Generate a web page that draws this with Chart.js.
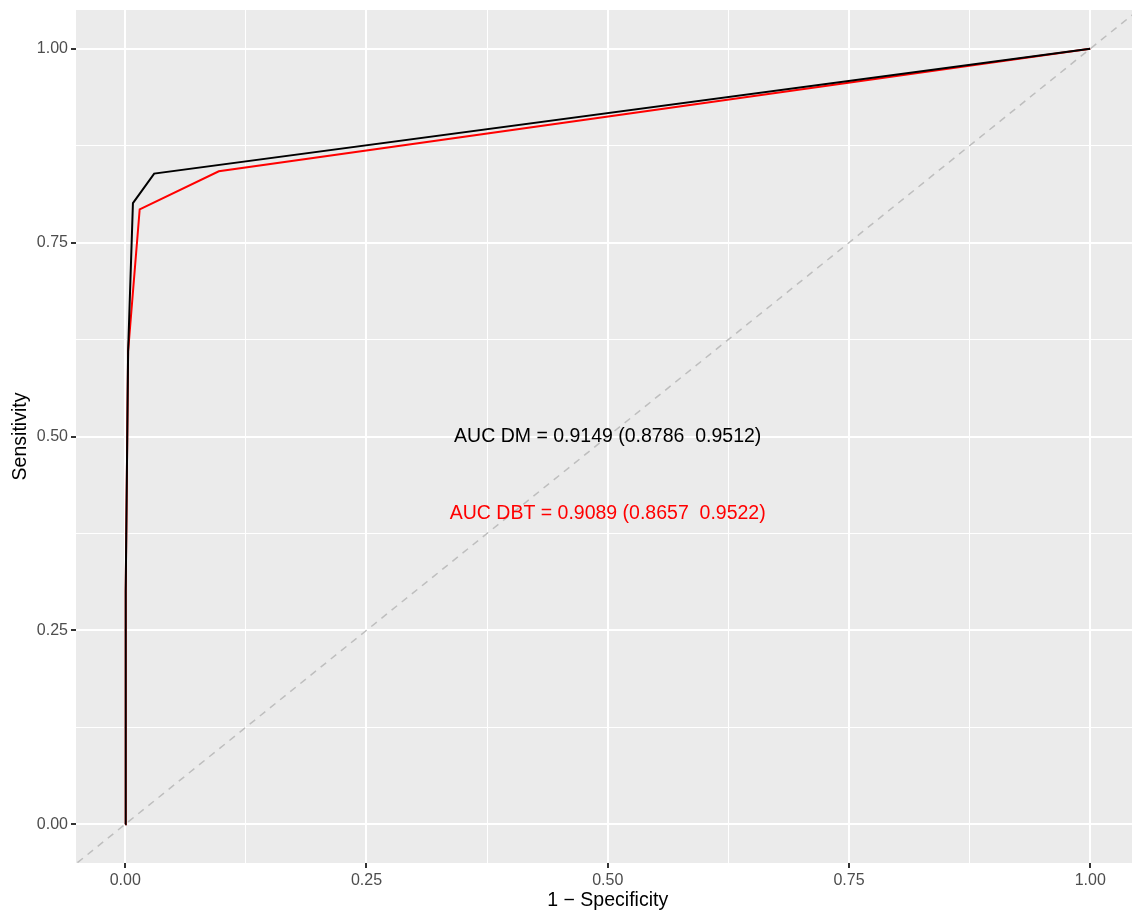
<!DOCTYPE html>
<html>
<head>
<meta charset="utf-8">
<script src="https://cdn.jsdelivr.net/npm/chart.js@4/dist/chart.umd.min.js"></script>
<style>
html,body{margin:0;padding:0;background:#fff;}
#wrap{width:1132px;height:913px;position:relative;}
</style>
</head>
<body>
<div id="wrap"><canvas id="c" width="1132" height="913"></canvas></div>
<script>
// ROC data
const fprDM  = [0, 0.0005, 0.003, 0.008, 0.030, 1];
const tprDM  = [0, 0.30, 0.61, 0.801, 0.839, 1];
const fprDBT = [0, 0.0005, 0.003, 0.015, 0.097, 1];
const tprDBT = [0, 0.30, 0.61, 0.793, 0.842, 1];
const diagX  = [-0.06, 1.06];
const diagY  = [-0.06, 1.06];
const majorTicks = [0, 0.25, 0.5, 0.75, 1];
const allTicks = [0, 0.125, 0.25, 0.375, 0.5, 0.625, 0.75, 0.875, 1];
const labelDM  = 'AUC DM = 0.9149 (0.8786  0.9512)';
const labelDBT = 'AUC DBT = 0.9089 (0.8657  0.9522)';
const labelPosDM  = [0.5, 0.5];
const labelPosDBT = [0.5, 0.4];
const xTitle = '1 \u2212 Specificity';
const yTitle = 'Sensitivity';

const toPts = (xs, ys) => xs.map((x, i) => ({x: x, y: ys[i]}));
const isMajor = v => majorTicks.some(m => Math.abs(m - v) < 1e-9);
const FONT = '"Liberation Sans", Arial, sans-serif';

const bgPlugin = {
  id: 'bg',
  beforeDraw(chart) {
    const {ctx, chartArea: a} = chart;
    ctx.save();
    ctx.fillStyle = '#EBEBEB';
    ctx.fillRect(a.left, a.top, a.right - a.left, a.bottom - a.top);
    ctx.restore();
  },
  afterDraw(chart) {
    const {ctx, chartArea: a, scales} = chart;
    ctx.save();
    ctx.textAlign = 'center';
    ctx.textBaseline = 'middle';
    ctx.font = '19.5px ' + FONT;
    ctx.fillStyle = '#000000';
    ctx.fillText(labelDM, scales.x.getPixelForValue(labelPosDM[0]), scales.y.getPixelForValue(labelPosDM[1]));
    ctx.fillStyle = '#FF0000';
    ctx.fillText(labelDBT, scales.x.getPixelForValue(labelPosDBT[0]), scales.y.getPixelForValue(labelPosDBT[1]));
    // axis titles
    ctx.fillStyle = '#000000';
    ctx.font = '19.5px ' + FONT;
    ctx.fillText(xTitle, scales.x.getPixelForValue(0.5), 901);
    ctx.translate(21, (a.top + a.bottom) / 2);
    ctx.rotate(-Math.PI / 2);
    ctx.fillText(yTitle, 0, 0);
    ctx.restore();
  }
};

const gridOpts = {
  color: '#FFFFFF',
  lineWidth: ctx => (ctx.tick && isMajor(ctx.tick.value)) ? 2 : 1,
  tickColor: ctx => (ctx.tick && isMajor(ctx.tick.value)) ? '#333333' : 'rgba(0,0,0,0)',
  tickLength: 5,
  tickWidth: 2,
  drawTicks: true
};

const zeroPad = s => { s.paddingTop = 0; s.paddingBottom = 0; s.paddingLeft = 0; s.paddingRight = 0; };

new Chart(document.getElementById('c'), {
  type: 'scatter',
  data: {
    datasets: [
      {data: toPts(diagX, diagY), showLine: true, borderColor: '#BEBEBE', borderWidth: 1.5, borderDash: [7, 6], pointRadius: 0},
      {data: toPts(fprDM, tprDM), showLine: true, borderColor: '#000000', borderWidth: 2, pointRadius: 0},
      {data: toPts(fprDBT, tprDBT), showLine: true, borderColor: '#FF0000', borderWidth: 2, pointRadius: 0}
    ]
  },
  options: {
    responsive: false,
    animation: false,
    layout: {padding: {top: 10, right: 0, left: 0, bottom: 0}},
    plugins: {legend: {display: false}, tooltip: {enabled: false}},
    scales: {
      x: {
        type: 'linear', min: -0.051, max: 1.0433,
        afterBuildTicks: s => { s.ticks = allTicks.map(v => ({value: v})); },
        afterFit: s => { s.height = 50; zeroPad(s); },
        ticks: {
          autoSkip: false, maxRotation: 0, padding: 3,
          color: '#4D4D4D', font: {family: FONT, size: 16},
          callback: v => isMajor(v) ? v.toFixed(2) : ''
        },
        grid: gridOpts,
        border: {display: false}
      },
      y: {
        type: 'linear', min: -0.05, max: 1.05,
        afterBuildTicks: s => { s.ticks = allTicks.map(v => ({value: v})); },
        afterFit: s => { s.width = 76; zeroPad(s); },
        ticks: {
          autoSkip: false, padding: 3,
          color: '#4D4D4D', font: {family: FONT, size: 16},
          callback: v => isMajor(v) ? v.toFixed(2) : ''
        },
        grid: gridOpts,
        border: {display: false}
      }
    }
  },
  plugins: [bgPlugin]
});
</script>
</body>
</html>
